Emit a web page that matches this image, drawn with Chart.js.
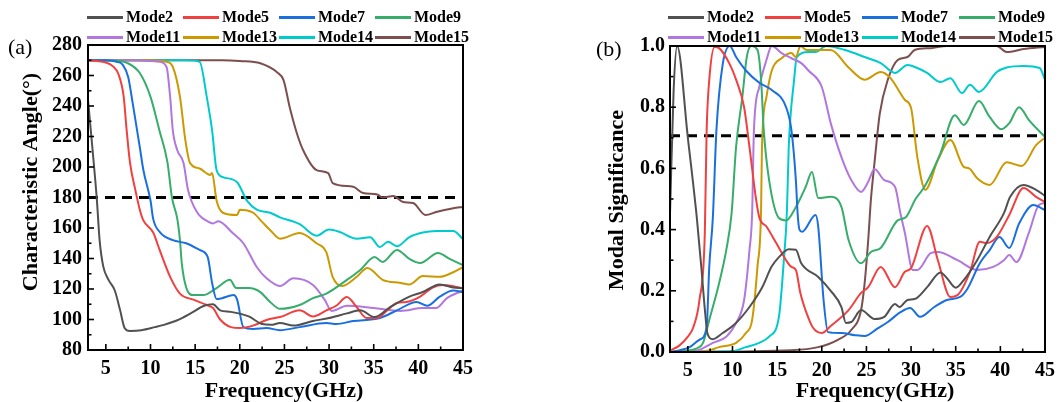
<!DOCTYPE html>
<html><head><meta charset="utf-8">
<script src="https://cdn.jsdelivr.net/npm/chart.js@4.4.1/dist/chart.umd.min.js"></script>
<style>
html,body{margin:0;padding:0;background:#fff;}
#wrap{position:relative;width:1062px;height:402px;overflow:hidden;font-family:'Liberation Serif','Times New Roman',serif;}
canvas{position:absolute;top:0;}
.lg{position:absolute;font-weight:bold;font-size:16px;line-height:20px;white-space:nowrap;color:#000;}
.lg i{display:inline-block;width:36px;height:3px;vertical-align:middle;margin-right:3px;position:relative;top:-1px;}
.pl{position:absolute;font-size:22px;line-height:26px;color:#000;}
</style></head><body>
<div id="wrap">
<canvas id="ca" width="531" height="402" style="left:0"></canvas>
<canvas id="cb" width="502" height="402" style="left:560px"></canvas>
<div class="pl" style="left:8px;top:34px">(a)</div>
<div class="pl" style="left:596px;top:36px">(b)</div>
</div>
<script>
// ---------- data ----------
const modeNames = ['Mode2','Mode5','Mode7','Mode9','Mode11','Mode13','Mode14','Mode15'];
const modeColors = ['#515151','#F14040','#1A6FDF','#37AD6B','#B177DE','#CC9900','#00CBCC','#7D4E4E'];
const freqTicks = [5,10,15,20,25,30,35,40,45];
const angleTicks = [80,100,120,140,160,180,200,220,240,260,280];
const msTicks = [0,0.2,0.4,0.6,0.8,1.0];
const msTickLabels = ['0.0','0.2','0.4','0.6','0.8','1.0'];
const angleRef = 180;
const msRef = 0.707;

// Characteristic angle, [frequency GHz, degrees]
const caMode2 = [[3,244],[3.5,212],[4,178],[4.3,152],[4.7,135],[5.3,126],[6,119],[6.6,106],[7.1,94.5],[7.7,92.5],[9,93],[10.5,95],[11.5,96.5],[13,99.5],[14.5,104],[16,109],[17,110],[17.8,106],[19,105],[21,102],[22.5,97],[23.5,96.5],[24.5,97.7],[26,96],[28.2,99],[30,101],[32,104],[33.5,106],[35.1,101.6],[36.8,108],[39,115],[40.5,118],[42.4,123],[43.9,121],[45,120.5]];
const caMode5 = [[3,270],[4,269.5],[5,268.5],[5.8,266],[6.4,261],[7,246],[7.3,226],[7.7,203],[8.3,185],[8.8,172],[9.2,165],[10.3,157],[11,146],[12.2,128],[13.3,117],[14.8,113],[16.3,109.5],[17,107.5],[17.8,100],[19,95],[20,94.4],[21.5,96],[23,99.7],[24.5,101.6],[26.7,106],[28.2,102],[29.7,106],[30.8,109],[32,114.7],[33.1,108],[34.2,101],[35.4,101],[36.5,106],[37.6,110.8],[38.7,111.5],[40.2,115],[41.6,121],[42.8,122.6],[45,120.5]];
const caMode7 = [[3,270],[5,270],[6.2,269],[6.9,267],[7.5,259],[8,242],[8.8,213],[9.2,198],[10,178],[10.3,166],[11.1,157],[12.5,152],[14,150],[15.5,145.6],[16.4,141],[16.9,124],[17.4,113.4],[18,114],[19.3,116],[19.7,113],[20.4,95],[21.5,93.8],[23,94.4],[24.5,93],[26.7,95],[29.7,97.7],[30.8,97],[32.7,99],[35.7,101],[37.6,106],[39.8,111.5],[41,109],[42.4,115],[43.9,119],[45,118]];
const caMode9 = [[3,270],[5,270],[6.5,269.5],[7.3,268.5],[8.8,261.6],[10,246],[11,224],[11.9,203],[12.4,180],[13,166],[13.3,152],[13.5,137],[14,121],[14.8,116],[15.9,116],[17.4,120.6],[18.9,126],[19.6,120.6],[21,120.6],[22.3,118],[23.4,111.5],[24.5,107],[26.7,109.5],[28.2,114],[29.7,117],[32,126],[33.5,132.5],[35.1,141],[36,137.7],[37.6,145.6],[39,139.7],[40.2,137],[42.2,143.6],[43.5,139.7],[45,135.7]];
const caMode11 = [[3,270],[8,270],[10,269.5],[11,269],[11.8,265.6],[12.2,246],[12.5,224],[13,211],[13.7,202.6],[14.2,185],[15.2,170.5],[16.5,164],[17,163],[17.6,164.5],[19.2,156.7],[20.4,150],[21.9,134.4],[23,127],[24.5,122],[26,127],[28.2,122.6],[29.5,113],[30.3,105.6],[32,109],[35,107.5],[38,105.6],[40.5,107.5],[42,107.5],[43.2,114],[45,119]];
const caMode13 = [[3,270],[10,270],[11.8,269],[12.5,265.6],[13.3,246],[13.9,217.7],[14.4,203],[15.5,199],[16.7,194.8],[16.9,196],[17.4,178],[18.1,170],[19.7,168.5],[20,172],[21.5,170],[22.5,164],[23.5,158],[24.5,153],[26.7,156.7],[28.6,150],[29.7,144],[30.4,128],[31.5,122],[33.1,128],[34.3,133.8],[36,126],[38,124],[39,123],[40.5,128.5],[42.4,128],[43.9,131],[45,134.4]];
const caMode14 = [[3,270],[14,270],[15.5,269],[16.3,246],[16.9,224],[17.4,198],[18.1,193.4],[19.7,190],[20.8,178],[21.9,172],[23.4,170],[24.5,167],[26.7,162.5],[28.6,155],[30,159],[31.2,157.4],[33.1,153],[34.6,154],[35.7,147.5],[36.6,151],[37.6,148],[39,154],[40.5,157],[42,158],[43.9,158],[45,152.8]];
const caMode15 = [[3,270],[10,270],[18,270],[20,269.5],[22.3,268],[24.2,262],[24.9,257],[25.6,239],[26.4,222],[27.1,211],[28.6,198],[29.9,196],[30.4,189.5],[32.7,187],[33.8,183],[35.4,182],[36,180],[37.2,181],[38.3,177],[39.4,176.4],[40.8,168.5],[42,170.5],[43.9,173],[45,173.8]];

// Modal significance, [frequency GHz, MS]
const msMode2 = [[3,0.45],[3.4,0.85],[3.8,1.0],[5,0.7],[6.0,0.44],[6.5,0.28],[6.9,0.14],[7.2,0.06],[7.8,0.042],[8.9,0.062],[10.4,0.095],[11.9,0.147],[13.3,0.21],[14.4,0.28],[15.2,0.31],[16.3,0.336],[17.1,0.334],[17.7,0.29],[19.6,0.245],[21,0.2],[22.2,0.147],[22.7,0.095],[23.3,0.098],[24.4,0.137],[25.9,0.108],[27,0.115],[28.2,0.157],[28.7,0.147],[29.6,0.17],[30.4,0.173],[31.8,0.212],[33.3,0.26],[34,0.242],[35,0.21],[35.9,0.235],[37.4,0.3],[38.8,0.376],[40.4,0.454],[41.1,0.507],[42.6,0.546],[44,0.53],[45,0.51]];
const msMode5 = [[3,0.005],[4,0.02],[5,0.05],[5.6,0.08],[6.3,0.17],[6.9,0.39],[7.1,0.72],[7.4,0.89],[8,0.997],[8.5,0.993],[9.7,0.94],[10.4,0.89],[11.3,0.8],[11.9,0.67],[12.6,0.507],[13,0.44],[13.8,0.41],[14.9,0.356],[16,0.3],[16.6,0.278],[17.1,0.268],[17.6,0.193],[18.3,0.127],[19,0.08],[20,0.062],[21,0.085],[23,0.137],[24.4,0.193],[25.2,0.212],[26.6,0.278],[28.2,0.212],[29.3,0.262],[30,0.274],[31.8,0.412],[33,0.3],[34.4,0.18],[35.2,0.186],[36.6,0.262],[37.7,0.36],[38.5,0.356],[39.6,0.376],[41,0.448],[42.6,0.536],[44,0.507],[45,0.49]];
const msMode7 = [[3,0.0],[4,0.005],[5.2,0.016],[6.3,0.04],[7.1,0.08],[7.4,0.28],[7.8,0.44],[8.2,0.725],[8.9,0.94],[9.7,1.0],[10.4,0.964],[11.5,0.92],[13,0.88],[14.4,0.856],[16,0.8],[16.6,0.725],[17.1,0.56],[17.3,0.45],[17.5,0.4],[17.8,0.393],[19.3,0.448],[19.6,0.41],[20.2,0.17],[20.7,0.065],[22.2,0.062],[23.7,0.055],[24.8,0.052],[26.3,0.078],[27.4,0.098],[28.8,0.13],[29.9,0.144],[31,0.115],[32.6,0.147],[34,0.17],[35.5,0.18],[36.3,0.206],[37.7,0.29],[38.8,0.333],[39.9,0.376],[41,0.34],[42.1,0.42],[43.7,0.48],[45,0.464]];
const msMode9 = [[3,0],[5,0.005],[6,0.012],[6.7,0.03],[7.4,0.105],[8.5,0.225],[9.3,0.333],[9.9,0.454],[10.4,0.67],[11.1,0.833],[11.6,0.964],[12.1,1.0],[12.8,0.987],[13.2,0.89],[13.5,0.725],[14.1,0.562],[15.2,0.438],[16,0.43],[17.1,0.474],[18.2,0.54],[18.9,0.588],[19.6,0.503],[21,0.507],[22.2,0.474],[23,0.366],[24.4,0.29],[25.5,0.327],[26.6,0.34],[28.5,0.43],[29.4,0.44],[30.5,0.5],[31.5,0.54],[33.3,0.65],[34.9,0.774],[35.9,0.742],[37.6,0.82],[38.8,0.768],[40.1,0.728],[41,0.748],[42.1,0.8],[43.2,0.758],[45,0.703]];
const msMode11 = [[3,0],[6,0.005],[7.8,0.03],[9.3,0.05],[10.4,0.095],[11.3,0.17],[11.9,0.333],[12.2,0.454],[12.4,0.725],[13,0.866],[13.8,0.954],[14.4,1.0],[15.5,0.977],[16.6,0.96],[17.7,0.944],[18.5,0.92],[20,0.866],[21,0.748],[22.2,0.637],[23.3,0.562],[24.4,0.523],[25.2,0.556],[25.9,0.598],[27,0.562],[28.2,0.54],[28.8,0.454],[29.3,0.39],[30.2,0.268],[30.7,0.268],[32.2,0.323],[33,0.327],[35.2,0.3],[37.4,0.268],[39.2,0.278],[40.4,0.3],[41,0.317],[41.8,0.294],[43.2,0.39],[44.3,0.48],[45,0.487]];
const msMode13 = [[3,0],[7,0.003],[8.5,0.016],[10.4,0.03],[11.5,0.062],[12.2,0.105],[12.8,0.28],[13.2,0.464],[13.3,0.67],[13.8,0.833],[14.4,0.92],[15.5,0.96],[16.6,0.977],[17.1,0.964],[17.6,1.0],[18.3,0.987],[18.9,0.987],[21,0.987],[23,0.93],[24.8,0.89],[26.6,0.915],[27.7,0.895],[29.3,0.824],[30,0.797],[30.7,0.637],[31.6,0.53],[33,0.627],[34.4,0.693],[35.9,0.605],[36.5,0.6],[37.4,0.568],[38.8,0.546],[40.7,0.62],[42.4,0.608],[44,0.676],[45,0.7]];
const msMode14 = [[3,0],[10,0.003],[11.5,0.016],[13,0.03],[14.1,0.05],[15.2,0.115],[15.7,0.28],[16.1,0.464],[16.3,0.67],[16.9,0.89],[17.2,0.964],[18.5,0.98],[19.3,0.98],[20.5,1.0],[22.6,0.987],[24.8,0.964],[26.6,0.944],[28.2,0.912],[29.6,0.938],[30.7,0.928],[31.8,0.912],[33.3,0.882],[34.4,0.895],[35.7,0.846],[36.6,0.873],[37.6,0.85],[39.6,0.915],[40.7,0.93],[42.6,0.935],[44.4,0.928],[45,0.89]];
const msMode15 = [[3,0],[16.6,0.006],[19.6,0.016],[21.8,0.04],[23.3,0.072],[24.4,0.137],[24.8,0.225],[25.2,0.366],[25.5,0.497],[25.9,0.617],[26.5,0.78],[27.4,0.89],[28.5,0.954],[29.6,0.964],[30.4,0.987],[32.2,0.993],[34,1.0],[39.6,1.0],[40.7,0.98],[42.6,0.99],[45,0.997]];

const caSeries = [caMode2,caMode5,caMode7,caMode9,caMode11,caMode13,caMode14,caMode15];
const msSeries = [msMode2,msMode5,msMode7,msMode9,msMode11,msMode13,msMode14,msMode15];

// ---------- rendering ----------
const FONT = "'Liberation Serif','Times New Roman',serif";
Chart.defaults.font.family = FONT;
Chart.defaults.color = '#000';

const mid = arr => arr.slice(0,-1).map((v,i)=>(v+arr[i+1])/2);

const framePlugin = {
  id:'frame',
  afterDraw(chart, args, o){
    const {ctx, chartArea:a} = chart; const xs = chart.scales.x, ys = chart.scales.y;
    ctx.save();
    ctx.strokeStyle = '#000';
    const seg=(x1,y1,x2,y2)=>{ctx.beginPath();ctx.moveTo(x1,y1);ctx.lineTo(x2,y2);ctx.stroke();};
    ctx.lineWidth = 1.6;
    o.xMajor.forEach(v=>{const p=xs.getPixelForValue(v); seg(p,a.bottom,p,a.bottom-6);});
    o.xMinor.forEach(v=>{const p=xs.getPixelForValue(v); seg(p,a.bottom,p,a.bottom-3.5);});
    o.yMajor.forEach(v=>{const p=ys.getPixelForValue(v); seg(a.left,p,a.left+6,p);});
    o.yMinor.forEach(v=>{const p=ys.getPixelForValue(v); seg(a.left,p,a.left+3.5,p);});
    ctx.lineWidth = 2;
    ctx.strokeRect(a.left, a.top, a.right-a.left, a.bottom-a.top);
    ctx.fillStyle = '#000';
    ctx.font = 'bold 22px ' + FONT;
    ctx.textAlign = 'center'; ctx.textBaseline = 'alphabetic';
    ctx.fillText(o.xTitle, o.xTitlePos[0], o.xTitlePos[1]);
    ctx.translate(o.yTitlePos[0], o.yTitlePos[1]);
    ctx.rotate(-Math.PI/2);
    ctx.fillText(o.yTitle, 0, 0);
    ctx.restore();
  }
};

function makeChart(id, series, refVal, yMin, yMax, yTicks, yLabel, L){
  const datasets = series.map((s,i)=>({
    label: modeNames[i],
    data: s.map(([x,y])=>({x,y})),
    borderColor: modeColors[i], borderWidth: 2, pointRadius: 0,
    cubicInterpolationMode: 'monotone', fill:false
  }));
  datasets.push({label:'ref', data:[{x:3,y:refVal},{x:45,y:refVal}], borderColor:'#000', borderWidth:3,
    borderDash:[10,7], pointRadius:0, fill:false});
  return new Chart(document.getElementById(id), {
    type:'line',
    data:{datasets},
    options:{
      responsive:false, animation:false, events:[],
      layout:{padding:L.pad},
      plugins:{legend:{display:false}, tooltip:{enabled:false},
        frame:{xMajor:freqTicks, xMinor:mid(freqTicks).concat([]), yMajor:yTicks, yMinor:mid(yTicks),
          xTitle:'Frequency(GHz)', xTitlePos:L.xt, yTitle:L.yTitle, yTitlePos:L.yt}},
      scales:{
        x:{type:'linear', min:3, max:45,
          afterBuildTicks:s=>{s.ticks = freqTicks.map(v=>({value:v}));},
          afterFit:s=>{s.height = L.xh;},
          grid:{display:false, drawTicks:false}, border:{display:false},
          ticks:{padding:7, color:'#000', font:{size:20, weight:'bold'}, maxRotation:0, autoSkip:false}},
        y:{type:'linear', min:yMin, max:yMax,
          afterBuildTicks:s=>{s.ticks = yTicks.map(v=>({value:v}));},
          afterFit:s=>{s.width = L.yw;},
          grid:{display:false, drawTicks:false}, border:{display:false},
          ticks:{padding:L.yp, color:'#000', font:{size:20, weight:'bold'}, autoSkip:false,
            callback:(v,i)=>yLabel[i]}}
      }
    },
    plugins:[framePlugin]
  });
}

makeChart('ca', caSeries, angleRef, 80, 280, angleTicks, angleTicks.map(String),
  {pad:{left:0,top:45,right:68,bottom:0}, xh:52, yw:88, yp:6,
   xt:[284,397], yt:[37,182], yTitle:'Characteristic Angle(°)'});
makeChart('cb', msSeries, msRef, 0, 1, msTicks, msTickLabels,
  {pad:{left:0,top:46,right:13,bottom:0}, xh:50, yw:110, yp:5,
   xt:[875-560,397], yt:[63,200], yTitle:'Modal Significance'});

// ---------- legends ----------
function legend(x0, dx, rows){
  const wrap = document.getElementById('wrap');
  modeNames.forEach((n,i)=>{
    const d = document.createElement('div');
    d.className = 'lg';
    d.style.left = (x0 + (i%4)*dx) + 'px';
    d.style.top = rows[Math.floor(i/4)] + 'px';
    d.innerHTML = '<i style="background:'+modeColors[i]+'"></i>'+n;
    wrap.appendChild(d);
  });
}
legend(87, 96, [7,27]);
legend(668, 97, [7,27]);
</script>
</body></html>
